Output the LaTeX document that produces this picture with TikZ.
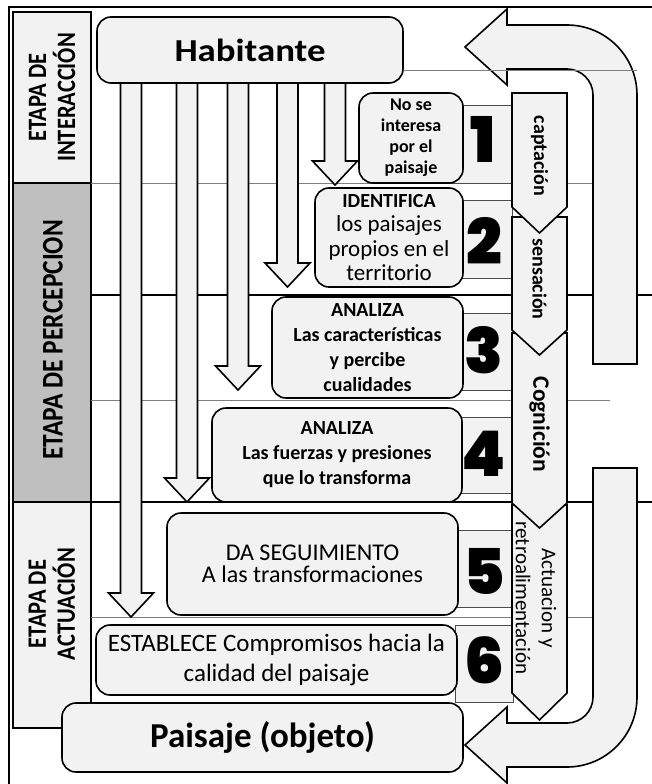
\documentclass[tikz,border=0pt]{standalone}
\usepackage{fontspec}
\setmainfont{Carlito}
\newfontfamily\wfont{Carlito}[FakeStretch=1.15]
\newfontfamily\rotfont{Carlito}[FakeStretch=0.85]
\IfFontExistsTF{Poppins Black}
  {\newfontfamily\numf{Poppins Black}}
  {\IfFontExistsTF{Fira Sans Black}
     {\newfontfamily\numf{Fira Sans Black}}
     {\newfontfamily\numf{Liberation Sans Bold}[FakeBold=4]}}
\definecolor{boxfill}{HTML}{F2F2F2}
\definecolor{bandfill}{HTML}{BFBFBF}
\definecolor{thinline}{HTML}{7F7F7F}
\tikzset{
  stagebox/.style={draw=black, line width=1.6pt},
  thinsep/.style={draw=thinline, line width=0.9pt},
  thicksep/.style={draw=black, line width=2.6pt},
  downarr/.style={draw=black, fill=boxfill, line width=1.6pt, line join=miter},
  rbox/.style={draw=black, fill=boxfill, line width=1.6pt, rounded corners=14pt, inner sep=0pt, align=center},
  numrect/.style={draw=black!70, fill=boxfill, line width=0.8pt},
  numtxt/.style={inner sep=0pt, font=\numf\fontsize{63}{66}\selectfont},
  chev/.style={draw=black, fill=boxfill, line width=1.6pt, line join=miter},
  bigarr/.style={draw=black, fill=boxfill, line width=1.6pt, line join=miter},
  rottxt/.style={inner sep=0pt, align=center},
}
\begin{document}
\begin{tikzpicture}[x=1pt, y=-1pt]
\useasboundingbox (0,0) rectangle (652,784);
\fill[white] (0,0) rectangle (652,784);
% frame
\draw[line width=1.8pt] (9,784) -- (9,7) -- (652,7);
% stage bands
\draw[stagebox, fill=boxfill] (13,12) rectangle (91,183);
\draw[stagebox, fill=bandfill] (13,183) rectangle (91,502);
\draw[stagebox, fill=boxfill] (13,502) rectangle (91,728);
\node[rottxt, rotate=90, font={\rotfont\bfseries\fontsize{26.5}{29}\selectfont}] (sint) at (52,97.5) {ETAPA DE\\INTERACCIÓN};
\node[rottxt, rotate=90, font={\rotfont\bfseries\fontsize{30}{34}\selectfont}] (sper) at (53,340) {ETAPA DE PERCEPCION};
\node[rottxt, rotate=90, font={\rotfont\bfseries\fontsize{26.5}{29}\selectfont}] (sact) at (52,604) {ETAPA DE\\ACTUACIÓN};
% separator lines
\draw[thinsep] (91,183) -- (593,183);
\draw[thinsep] (91,400) -- (610,400);
\draw[thinsep] (91,617) -- (593,617);
\draw[thicksep] (91,295) -- (652,295);
\draw[thicksep] (13,502) -- (652,502);
% down arrows from Habitante
\foreach \cx/\yt in {131/617, 187/502, 238/390, 287.5/287, 335/185}{
  \draw[downarr] (\cx-10.5,78) -- (\cx-10.5,\yt-24) -- (\cx-22.5,\yt-24) -- (\cx,\yt)
     -- (\cx+22.5,\yt-24) -- (\cx+10.5,\yt-24) -- (\cx+10.5,78) -- cycle;
}
% Habitante
\node[rbox, minimum width=306pt, minimum height=66pt, font={\wfont\bfseries\fontsize{32}{38}\selectfont}] (hab) at (250,50) {Habitante};
% number rectangles
\draw[numrect] (440,105) rectangle (512,183);
\draw[numrect] (455,200) rectangle (512,278);
\draw[numrect] (455,313) rectangle (513,390);
\draw[numrect] (455,417) rectangle (513,493);
\draw[numrect] (455,530) rectangle (512,607);
\draw[numrect] (455,625) rectangle (513,702);
\node[numtxt] (n1) at (483,139) {1};
\node[numtxt] (n2) at (484,241) {2};
\node[numtxt] (n3) at (484,350) {3};
\node[numtxt] (n4) at (484,454) {4};
\node[numtxt] (n5) at (484,571) {5};
\node[numtxt] (n6) at (484,660) {6};
% step boxes
\node[rbox, minimum width=104pt, minimum height=90pt, font={\bfseries\fontsize{18}{21}\selectfont}] (b1) at (411,138) {No se\\interesa\\por el\\paisaje};
\node[rbox, minimum width=148pt, minimum height=99pt, font={\fontsize{23}{24.5}\selectfont}] (b2) at (389,237.5) {{\bfseries\fontsize{20}{24.5}\selectfont IDENTIFICA}\\los paisajes\\propios en el\\territorio};
\node[rbox, minimum width=191pt, minimum height=101pt, font={\bfseries\fontsize{20}{25}\selectfont}] (b3) at (367.5,347.5) {ANALIZA\\Las características\\y percibe\\cualidades};
\node[rbox, minimum width=250pt, minimum height=94pt, font={\bfseries\fontsize{20}{25}\selectfont}] (b4) at (337,455) {ANALIZA\\Las fuerzas y presiones\\que lo transforma};
\node[rbox, minimum width=291pt, minimum height=102pt, font={\fontsize{24}{22}\selectfont}] (b5) at (312.5,564) {DA SEGUIMIENTO\\A las transformaciones};
\node[rbox, minimum width=361pt, minimum height=70pt, font={\fontsize{25}{30}\selectfont}] (b6) at (276.5,660) {ESTABLECE Compromisos hacia la\\calidad del paisaje};
\node[rbox, minimum width=401pt, minimum height=69pt, font={\bfseries\fontsize{35}{40}\selectfont}] (pai) at (262.5,737.5) {Paisaje (objeto)};
% chevrons (drawn last-first)
\draw[chev] (512,505) -- (567,505) -- (567,693) -- (539.5,720) -- (512,693) -- cycle;
\draw[chev] (512,333) -- (567,333) -- (567,503) -- (539.5,528) -- (512,503) -- cycle;
\draw[chev] (512,217) -- (567,217) -- (567,330) -- (539.5,355) -- (512,330) -- cycle;
\draw[chev] (512,93) -- (567,93) -- (567,207) -- (539.5,233) -- (512,207) -- cycle;
\node[rottxt, rotate=-90, font={\bfseries\fontsize{20}{24}\selectfont}] (tcap) at (539.5,156) {captación};
\node[rottxt, rotate=-90, font={\bfseries\fontsize{20}{24}\selectfont}] (tsen) at (539.5,279) {sensación};
\node[rottxt, rotate=-90, font={\bfseries\fontsize{23.5}{26}\selectfont}] (tcog) at (539.5,424.5) {Cognición};
\node[rottxt, rotate=-90, font={\fontsize{21}{26}\selectfont}] (tact) at (536,598) {Actuacion y\\retroalimentación};
% big curved arrows
\draw[bigarr] (465,47) -- (507,9) -- (507,25) -- (567,25) arc[start angle=-90, end angle=0, radius=70]
   -- (637,364) -- (593,364) -- (593,95) arc[start angle=0, end angle=-90, radius=26]
   -- (507,69) -- (507,85) -- cycle;
\draw[bigarr] (593,468) -- (637,468) -- (637,697) arc[start angle=0, end angle=90, radius=70]
   -- (507,767) -- (507,783) -- (465,745) -- (507,707) -- (507,723) -- (567,723)
   arc[start angle=90, end angle=0, radius=26] -- cycle;
\draw[thinsep] (hab.east |- 0,70) -- (637,70);
\end{tikzpicture}
\end{document}
